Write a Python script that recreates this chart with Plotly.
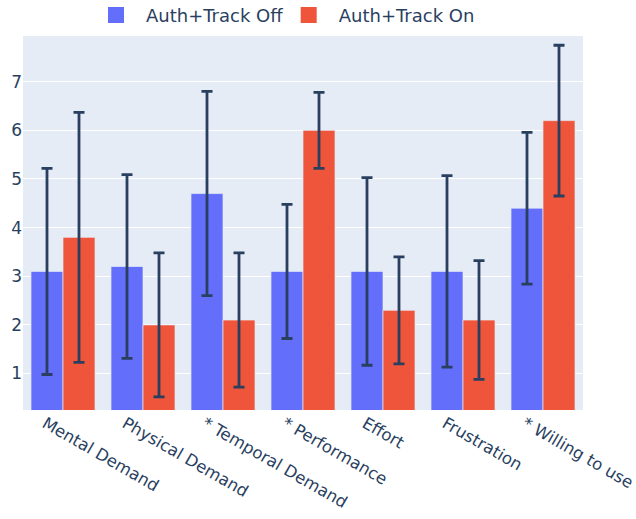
import plotly.graph_objects as go

categories = ["Mental Demand", "Physical Demand", "* Temporal Demand", "* Performance",
              "Effort", "Frustration", "* Willing to use"]

off_mean = [3.1, 3.2, 4.7, 3.1, 3.1, 3.1, 4.4]
off_sd = [2.12, 1.89, 2.1, 1.38, 1.93, 1.97, 1.56]

on_mean = [3.8, 2.0, 2.1, 6.0, 2.3, 2.1, 6.2]
on_sd = [2.57, 1.48, 1.38, 0.78, 1.1, 1.22, 1.55]

series = [("Auth+Track Off", off_mean, off_sd, "#636efa", "legend"),
          ("Auth+Track On", on_mean, on_sd, "#EF553B", "legend2")]

fig = go.Figure()
for name, mean, sd, color, _ in series:
    fig.add_trace(go.Bar(
        name=name, x=categories, y=mean, showlegend=False,
        marker=dict(color=color, line=dict(color="#E5ECF6", width=0.7)),
        error_y=dict(type="data", array=sd, visible=True,
                     color="#2a3f5f", thickness=2.8, width=5.5),
    ))
# larger square swatches for the legend, one legend box per series
for name, mean, sd, color, leg in series:
    fig.add_trace(go.Scatter(
        name=name, x=[None], y=[None], mode="markers", legend=leg,
        marker=dict(symbol="square", size=16, color=color),
    ))

legend_style = dict(orientation="h", xanchor="left", y=1.006, yanchor="bottom",
                    itemwidth=50, font=dict(size=18), bgcolor="rgba(0,0,0,0)")

fig.update_layout(
    template="plotly",
    width=636, height=519,
    barmode="group",
    font=dict(family="DejaVu Sans, Verdana, sans-serif", size=17, color="#2a3f5f"),
    margin=dict(l=23, r=53, t=36, b=109, autoexpand=False),
    legend=dict(x=0.1125, **legend_style),
    legend2=dict(x=0.4566, **legend_style),
    xaxis=dict(tickangle=30, automargin=False, ticklabelshift=-18,
               tickfont=dict(size=16.5)),
    yaxis=dict(range=[0.25, 7.94], tickvals=[1, 2, 3, 4, 5, 6, 7], automargin=False,
               gridwidth=1.4),
)

fig.write_html("out.html")
